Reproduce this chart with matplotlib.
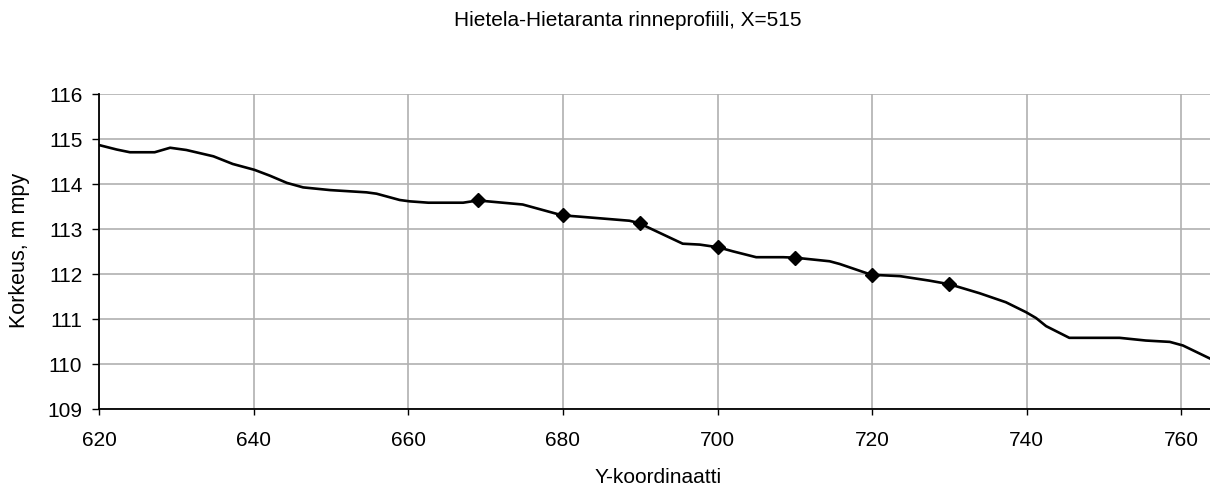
import matplotlib
matplotlib.use("Agg")
import matplotlib.pyplot as plt

plt.rcParams['font.family'] = ['Liberation Sans', 'DejaVu Sans']

# profile
profile_y = [620.0, 622.3, 624.0, 627.2, 629.2, 631.3, 634.8, 637.3, 640.1, 642.1,
             644.3, 646.4, 649.9, 654.6, 655.9, 658.9, 660.2, 662.6, 667.1, 669.0,
             674.8, 679.9, 682.2, 688.6, 689.8, 695.5, 697.7, 700.1, 702.0, 705.0,
             708.5, 710.0, 714.5, 715.8, 719.9, 723.6, 727.4, 730.0, 733.9, 737.3,
             739.9, 741.2, 742.5, 745.5, 752.0, 755.4, 758.5, 760.2, 763.7]
profile_h = [114.86, 114.76, 114.70, 114.70, 114.80, 114.75, 114.61, 114.44, 114.31, 114.18,
             114.02, 113.92, 113.86, 113.81, 113.78, 113.64, 113.61, 113.58, 113.58, 113.63,
             113.54, 113.30, 113.27, 113.18, 113.13, 112.67, 112.65, 112.59, 112.50, 112.37,
             112.37, 112.36, 112.28, 112.22, 111.98, 111.95, 111.85, 111.77, 111.57, 111.37,
             111.15, 111.02, 110.84, 110.58, 110.58, 110.52, 110.49, 110.41, 110.12]

# measured points (diamonds)
point_y = [669, 680, 690, 700, 710, 720, 730]
point_h = [113.63, 113.30, 113.13, 112.59, 112.36, 111.98, 111.77]

x_ticks = [620, 640, 660, 680, 700, 720, 740, 760]
y_ticks = [109, 110, 111, 112, 113, 114, 115, 116]

W, H = 1210, 489
fig = plt.figure(figsize=(W / 100, H / 100), dpi=100)
ax = fig.add_axes([99 / W, 1 - 410 / H, 1 - 99 / W, (410 - 94.7) / H])

ax.plot(profile_y, profile_h, color='black', linewidth=1.9, zorder=3)
ax.plot(point_y, point_h, linestyle='none', marker='D', markersize=7.5,
        color='black', zorder=4)

ax.set_xlim(620, 763.7)
ax.set_ylim(109, 116)
ax.set_xticks(x_ticks)
ax.set_yticks(y_ticks)
ax.grid(True, color='#b0b0b0', linewidth=1.2)
ax.set_axisbelow(True)

for s in ['top', 'right']:
    ax.spines[s].set_visible(False)
for s in ['left', 'bottom']:
    ax.spines[s].set_linewidth(1.3)
    ax.spines[s].set_color('black')

ax.tick_params(axis='both', labelsize=15, width=1.0, direction='out')
ax.tick_params(axis='x', length=4.3, pad=11)
ax.tick_params(axis='y', length=5, pad=7)

fig.text(628 / W, 1 - 21 / H, 'Hietela-Hietaranta rinneprofiili, X=515', ha='center',
         va='center', fontsize=15)
fig.text(658 / W, 1 - 478 / H, 'Y-koordinaatti', ha='center', va='center', fontsize=15)
fig.text(20 / W, 1 - 250 / H, 'Korkeus, m mpy', ha='center', va='center',
         rotation=90, fontsize=15.5)

fig.savefig('out.png', dpi=100)
